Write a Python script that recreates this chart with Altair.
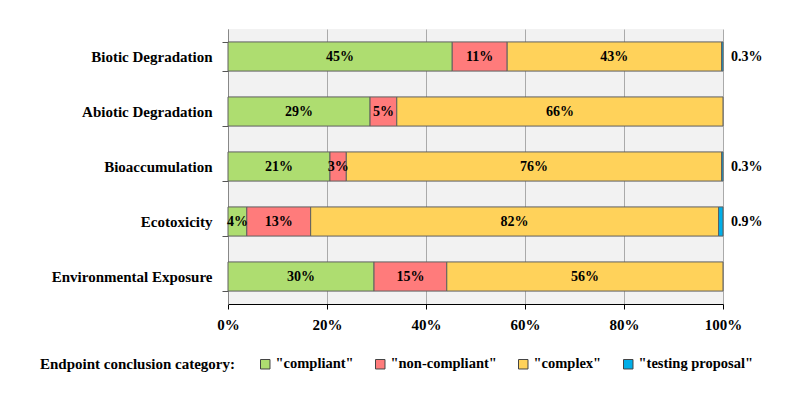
import altair as alt
import pandas as pd

categories = ["Biotic Degradation", "Abiotic Degradation", "Bioaccumulation",
              "Ecotoxicity", "Environmental Exposure"]
series = ['"compliant"', '"non-compliant"', '"complex"', '"testing proposal"']
compliant = [45.3, 28.7, 20.6, 3.8, 29.5]
non_compliant = [11.1, 5.4, 3.3, 12.9, 14.7]
complex_ = [43.3, 65.9, 75.8, 82.4, 55.8]
testing = [0.3, 0.0, 0.3, 0.9, 0.0]
colors = ["#aedd70", "#ff7b7b", "#ffd25a", "#00aee8"]
x_ticks = [0, 20, 40, 60, 80, 100]

rows = []
for i, cat in enumerate(categories):
    vals = [compliant[i], non_compliant[i], complex_[i], testing[i]]
    start = 0.0
    for j, s in enumerate(series):
        v = vals[j]
        if v > 0:
            rows.append({"category": cat, "series": s, "order": j, "value": v,
                         "start": start, "end": start + v,
                         "mid": start + v / 2,
                         "inside": j < 3,
                         "label": f"{round(v):d}%" if j < 3 else f"{v:.1f}%"})
        start += v
df = pd.DataFrame(rows)

FONT = "Liberation Serif"

y_enc = alt.Y("category:N", sort=categories, title=None,
              scale=alt.Scale(paddingInner=0.47, paddingOuter=0.235),
              axis=alt.Axis(labelFont=FONT, labelFontSize=15, labelFontWeight="bold",
                            labelColor="#000", labelPadding=10, tickBand="extent",
                            tickColor="#555", tickSize=6, domainColor="#888",
                            labelLimit=300))
x_enc = alt.X("start:Q", title=None,
              scale=alt.Scale(domain=[0, 100], nice=False),
              axis=alt.Axis(values=x_ticks, labelExpr="datum.value + '%'",
                            labelFont=FONT, labelFontSize=15, labelFontWeight="bold",
                            labelColor="#000", labelPadding=8, tickSize=5,
                            labelFlush=False,
                            tickColor="#000", domainColor="#000",
                            grid=True, gridColor="#aaaaaa", gridWidth=1))

bars = alt.Chart(df).mark_bar(stroke="#5f5f5f", strokeWidth=1, cornerRadius=0).encode(
    y=y_enc,
    x=x_enc,
    x2="end:Q",
    color=alt.Color("series:N", sort=series,
                    scale=alt.Scale(domain=series, range=colors),
                    legend=alt.Legend(orient="none", direction="horizontal",
                                      legendX=-188, legendY=328,
                                      title="Endpoint conclusion category:",
                                      titleOrient="left", titleFont=FONT,
                                      titleFontSize=15, titleFontWeight="bold",
                                      titleColor="#000", titlePadding=22,
                                      titleLimit=400,
                                      labelFont=FONT, labelFontSize=14.5,
                                      labelFontWeight="bold", labelColor="#000",
                                      symbolType="square", symbolSize=90,
                                      symbolStrokeColor="#444", symbolStrokeWidth=1,
                                      columnPadding=19, labelOffset=3,
                                      labelLimit=300, columns=4)),
    order=alt.Order("order:Q"),
)

inside_text = alt.Chart(df).transform_filter("datum.inside").mark_text(
    font=FONT, fontSize=14, fontWeight="bold", color="#000"
).encode(
    y=alt.Y("category:N", sort=categories),
    x=alt.X("mid:Q"),
    text="label:N",
)

outside_text = alt.Chart(df).transform_filter("!datum.inside").mark_text(
    font=FONT, fontSize=14, fontWeight="bold", color="#000", align="left", dx=8
).encode(
    y=alt.Y("category:N", sort=categories),
    x=alt.value(495),
    text="label:N",
)

chart = alt.layer(bars, inside_text, outside_text).properties(
    width=495, height=275,
    autosize=alt.AutoSizeParams(type="none"),
    padding={"left": 220, "top": 21, "right": 69, "bottom": 88},
).configure_view(fill="#f2f2f2", stroke=None)

chart.save("out.html", embed_options={"renderer": "svg", "actions": False})
